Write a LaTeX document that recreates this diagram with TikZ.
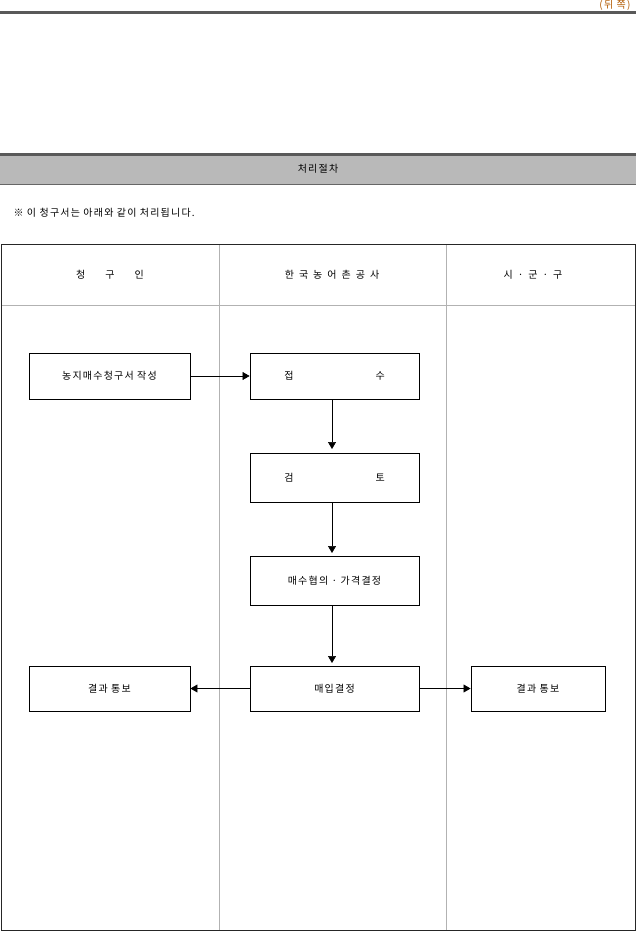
\documentclass[tikz,border=0pt]{standalone}
\usepackage{fontspec}
\setmainfont{Noto Sans CJK KR}[LetterSpace=12]
\usetikzlibrary{arrows.meta}
\begin{document}
\begin{tikzpicture}[x=1pt,y=-1pt,
  box/.style={draw,line width=0.9pt,minimum height=46pt,inner sep=0pt,font=\fontsize{10}{12}\selectfont},
  hd/.style={font=\fontsize{10}{12}\selectfont},
  arr/.style={-{Triangle[length=7pt,width=8pt]},line width=0.6pt}]
\useasboundingbox (0,0) rectangle (636,931);
\node[hd,text=orange!70!black,anchor=north east] (pg) at (634,-3) {(뒤 쪽)};
\draw[line width=3pt,gray!70!black] (0,13) -- (636,13);
\fill[gray!55] (0,156) rectangle (636,184);
\draw[line width=3pt,gray!70!black] (0,154.5) -- (636,154.5);
\draw[line width=1pt,gray!80!black] (0,184) -- (636,184);
\node[hd] (title) at (318,169) {처리절차};
\node[hd,anchor=west] (note) at (10,213) {※ 이 청구서는 아래와 같이 처리됩니다.};
\draw[gray!60,line width=0.6pt] (219,244) -- (219,930) (446,244) -- (446,930) (1,305) -- (635,305);
\draw[gray!30!black,line width=0.9pt] (1,244) rectangle (635,930);
\node[hd] (h1) at (110,275) {청\hspace{20pt}구\hspace{20pt}인};
\node[hd] (h2) at (332,275) {한\hspace{5pt}국\hspace{5pt}농\hspace{5pt}어\hspace{5pt}촌\hspace{5pt}공\hspace{5pt}사};
\node[hd] (h3) at (533,275) {시\hspace{5pt}·\hspace{5pt}군\hspace{5pt}·\hspace{5pt}구};
\node[box,minimum width=161pt] (a) at (109.5,376) {농지매수청구서 작성};
\node[box,minimum width=169pt] (b) at (334.5,376) {접\hspace{82pt}수};
\node[box,minimum width=169pt,minimum height=49pt] (c) at (334.5,477.5) {검\hspace{82pt}토};
\node[box,minimum width=169pt,minimum height=49pt] (d) at (334.5,580.5) {매수협의 · 가격결정};
\node[box,minimum width=169pt,minimum height=45pt] (e) at (334.5,688.5) {매입결정};
\node[box,minimum width=161pt,minimum height=45pt] (f) at (109.5,688.5) {결과 통보};
\node[box,minimum width=134pt,minimum height=45pt] (g) at (538,688.5) {결과 통보};
\draw[arr] (a.east) -- (b.west);
\draw[arr] (332,399) -- (332,449);
\draw[arr] (332,502) -- (332,553);
\draw[arr] (332,605) -- (332,663);
\draw[arr] (e.west) -- (f.east);
\draw[arr] (e.east) -- (g.west);
\end{tikzpicture}
\end{document}
